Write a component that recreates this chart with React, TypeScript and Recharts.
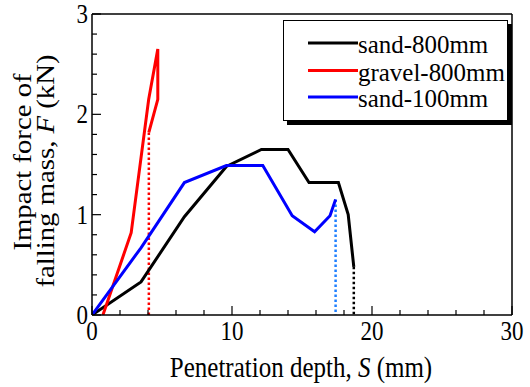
import React from "react";
import { LineChart, Line, XAxis, YAxis } from "recharts";

// Penetration depth S (mm) vs impact force F (kN)
const sand800S = [0, 3.5, 6.6, 9.6, 12.1, 14.0, 15.5, 17.6, 18.3, 18.7];
const sand800F = [0, 0.33, 0.98, 1.48, 1.65, 1.65, 1.32, 1.32, 1.0, 0.48];
const gravel800S = [0.78, 2.8, 4.05, 4.7, 4.7, 4.06];
const gravel800F = [0, 0.82, 2.15, 2.65, 2.15, 1.82];
const sand100S = [0, 3.5, 6.6, 9.6, 12.2, 14.3, 15.9, 17.0, 17.4];
const sand100F = [0, 0.67, 1.32, 1.49, 1.49, 0.99, 0.83, 0.99, 1.15];

const xTicks = [0, 2, 4, 6, 8, 10, 12, 14, 16, 18, 20, 22, 24, 26, 28, 30];
const yTicks = [0, 0.2, 0.4, 0.6, 0.8, 1, 1.2, 1.4, 1.6, 1.8, 2, 2.2, 2.4, 2.6, 2.8, 3];

const toRows = (xs: number[], ys: number[]) => xs.map((s, i) => ({ s, f: ys[i] }));
const dropLine = (xs: number[], ys: number[]) => [
  { s: xs[xs.length - 1], f: ys[ys.length - 1] },
  { s: xs[xs.length - 1], f: 0 },
];

const series = [
  { name: "sand-800mm", color: "#000000", dot: "#000000", data: toRows(sand800S, sand800F), drop: dropLine(sand800S, sand800F) },
  { name: "gravel-800mm", color: "#ff0000", dot: "#ff0000", data: toRows(gravel800S, gravel800F), drop: dropLine(gravel800S, gravel800F) },
  { name: "sand-100mm", color: "#0000ff", dot: "#1e7fff", data: toRows(sand100S, sand100F), drop: dropLine(sand100S, sand100F) },
];

const font = "'Liberation Serif', 'Times New Roman', serif";
// the original figure is stretched a bit vertically, text included
const STRETCH = 1.15;

// text drawn with the same vertical stretch as the figure
const SText = ({ x, y, size, anchor = "start", rotate = 0, sx = 1, sy = STRETCH, children }: any) => (
  <g transform={`translate(${x},${y}) scale(${sx},${sy}) rotate(${rotate})`}>
    <text x={0} y={0} textAnchor={anchor} fontFamily={font} fontSize={size} fill="#000">
      {children}
    </text>
  </g>
);

const isMajor = (v: number, step: number) => Math.abs(v / step - Math.round(v / step)) < 1e-6;

const makeTick = (side: "bottom" | "top" | "left" | "right") => (props: any) => {
  const { x, y, payload } = props;
  const v = payload.value;
  const major = side === "bottom" || side === "top" ? isMajor(v, 10) : isMajor(v, 1);
  const len = major ? 9 : 5;
  let line;
  if (side === "bottom") line = <line x1={x} y1={y} x2={x} y2={y - len} stroke="#000" strokeWidth={1.2} />;
  else if (side === "top") line = <line x1={x} y1={y} x2={x} y2={y + len} stroke="#000" strokeWidth={1.2} />;
  else if (side === "left") line = <line x1={x} y1={y} x2={x + len} y2={y} stroke="#000" strokeWidth={1.2} />;
  else line = <line x1={x} y1={y} x2={x - len} y2={y} stroke="#000" strokeWidth={1.2} />;
  let label = null;
  if (side === "bottom" && major)
    label = (
      <SText x={x} y={y + 25} size={23} anchor="middle">
        {v}
      </SText>
    );
  if (side === "left" && major)
    label = (
      <SText x={x - 4} y={y + 9} size={23} anchor="end">
        {v}
      </SText>
    );
  return (
    <g>
      {line}
      {label}
    </g>
  );
};

const legendRows = [43, 70.5, 97];

const axisLine = { stroke: "#000", strokeWidth: 1.5 };

export default function App() {
  return (
    <div style={{ position: "absolute", left: 0, top: 0, width: 530, height: 387, background: "#fff" }}>
      <LineChart width={530} height={387} margin={{ top: 13, right: 17, bottom: 71, left: 91 }}>
        <XAxis
          xAxisId="b"
          dataKey="s"
          type="number"
          domain={[0, 30]}
          ticks={xTicks}
          interval={0}
          height={1}
          tickSize={0}
          tickMargin={0}
          tickLine={false}
          axisLine={axisLine}
          tick={makeTick("bottom")}
          allowDataOverflow
        />
        <XAxis
          xAxisId="t"
          orientation="top"
          dataKey="s"
          type="number"
          domain={[0, 30]}
          ticks={xTicks}
          interval={0}
          height={1}
          tickSize={0}
          tickMargin={0}
          tickLine={false}
          axisLine={axisLine}
          tick={makeTick("top")}
        />
        <YAxis
          yAxisId="l"
          type="number"
          domain={[0, 3]}
          ticks={yTicks}
          interval={0}
          width={1}
          tickSize={0}
          tickMargin={0}
          tickLine={false}
          axisLine={axisLine}
          tick={makeTick("left")}
          allowDataOverflow
        />
        <YAxis
          yAxisId="r"
          orientation="right"
          type="number"
          domain={[0, 3]}
          ticks={yTicks}
          interval={0}
          width={1}
          tickSize={0}
          tickMargin={0}
          tickLine={false}
          axisLine={axisLine}
          tick={makeTick("right")}
        />
        {series.map((s) => (
          <Line
            key={s.name + "-drop"}
            xAxisId="b"
            yAxisId="l"
            data={s.drop}
            dataKey="f"
            stroke={s.dot}
            strokeWidth={2.5}
            strokeDasharray="2.5 2.5"
            dot={false}
            legendType="none"
            isAnimationActive={false}
          />
        ))}
        {series.map((s) => (
          <Line
            key={s.name}
            name={s.name}
            xAxisId="b"
            yAxisId="l"
            data={s.data}
            dataKey="f"
            type="linear"
            stroke={s.color}
            strokeWidth={3}
            strokeLinejoin="miter"
            dot={false}
            isAnimationActive={false}
          />
        ))}
      </LineChart>
      <svg width={530} height={387} style={{ position: "absolute", left: 0, top: 0, pointerEvents: "none" }}>
        {/* legend */}
        <rect x={287} y={24} width={225} height={101} fill="#000" />
        <rect x={283.5} y={20.5} width={224} height={100} fill="#fff" stroke="#000" strokeWidth={1} />
        {series.map((s, i) => (
          <g key={s.name}>
            <line x1={308} x2={358} y1={legendRows[i]} y2={legendRows[i]} stroke={s.color} strokeWidth={3} />
            <SText x={358} y={legendRows[i] + 10} size={23} sx={1.085} sy={1.05}>
              {s.name}
            </SText>
          </g>
        ))}
        <SText x={301} y={377} size={25} anchor="middle">
          Penetration depth, <tspan fontStyle="italic">S</tspan> (mm)
        </SText>
        <SText x={31} y={162} size={25} anchor="middle" rotate={-90}>
          Impact force of
        </SText>
        <SText x={54} y={171} size={25} anchor="middle" rotate={-90}>
          falling mass, <tspan fontStyle="italic">F</tspan> (kN)
        </SText>
      </svg>
    </div>
  );
}
